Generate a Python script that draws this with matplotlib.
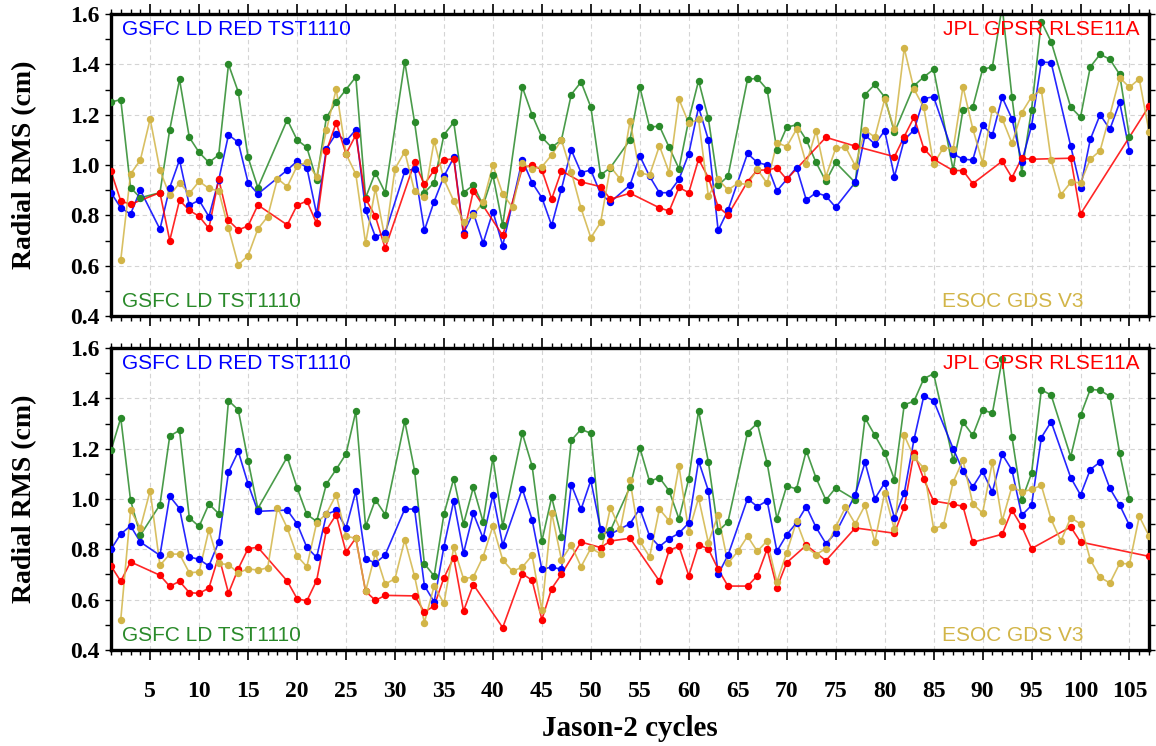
import matplotlib

matplotlib.use("Agg")
import matplotlib.pyplot as plt
from matplotlib.ticker import MultipleLocator

# Jason-2 cycles 1..107; None = no value for that cycle
cycles = list(range(1, 108))

# ---- upper panel ----
green_top = [
    1.25, 1.26, 0.91, 0.87, None, 0.89, 1.14, 1.34, 1.11, 1.05,
    1.01, 1.04, 1.40, 1.29, 1.03, 0.91, None, None, 1.18, 1.10,
    1.07, 0.94, 1.19, 1.25, 1.30, 1.35, 0.87, 0.97, 0.89, None,
    1.41, 1.17, 0.89, 0.93, 1.12, 1.17, 0.89, 0.92, 0.84, 0.96,
    0.76, None, 1.31, 1.20, 1.11, 1.07, 1.10, 1.28, 1.33, 1.23,
    0.96, 0.99, None, 1.10, 1.31, 1.15, 1.155, 1.07, 0.985, 1.18,
    1.335, 1.185, 0.92, 0.955, None, 1.34, 1.345, 1.30, 1.06, 1.15,
    1.16, 1.10, 1.01, 0.935, 1.01, None, 0.93, 1.28, 1.32, 1.27,
    1.13, None, 1.315, 1.35, 1.38, None, 0.98, 1.22, 1.23, 1.38,
    1.39, 1.63, 1.27, 0.97, 1.22, 1.57, 1.49, None, 1.23, 1.19,
    1.39, 1.44, 1.42, 1.36, 1.11, None, None,
]
blue_top = [
    0.89, 0.83, 0.805, 0.90, None, 0.745, 0.91, 1.02, 0.84, 0.86,
    0.795, 0.94, 1.12, 1.09, 0.93, 0.885, None, None, 0.98, 1.015,
    0.99, 0.805, 1.065, 1.125, 1.095, 1.14, 0.82, 0.715, 0.73, None,
    0.975, 0.985, 0.74, 0.855, 0.955, 1.03, 0.73, 0.81, 0.69, 0.815,
    0.68, None, 1.02, 0.93, 0.87, 0.76, 0.905, 1.06, 0.97, 0.98,
    0.885, 0.853, None, 0.92, 1.036, 0.955, 0.89, 0.89, 0.943, 1.045,
    1.23, 1.10, 0.74, 0.82, None, 1.046, 1.01, 1.00, 0.897, 0.943,
    0.99, 0.861, 0.89, 0.877, 0.832, None, 0.931, 1.119, 1.083, 1.136,
    0.954, 1.10, 1.139, 1.264, 1.271, None, 1.044, 1.023, 1.02, 1.158,
    1.119, 1.269, 1.184, 1.013, 1.155, 1.409, 1.407, None, 1.075, 0.91,
    1.102, 1.20, 1.142, 1.249, 1.056, None, None,
]
red_top = [
    0.975, 0.857, 0.844, None, None, 0.89, 0.70, 0.86, 0.82, 0.796,
    0.748, 0.944, 0.78, 0.742, 0.758, 0.841, None, None, 0.762, 0.84,
    0.857, 0.768, 1.056, 1.168, 1.044, 1.119, 0.866, 0.796, 0.669, None,
    None, 1.011, 0.923, 0.98, 1.02, 1.025, 0.722, 0.897, None, None,
    0.72, None, 0.987, 1.001, 0.98, 0.865, 0.977, None, 0.933, None,
    0.914, 0.864, None, 0.888, None, None, 0.83, 0.817, 0.911, 0.89,
    1.023, 0.95, 0.834, 0.801, None, 0.934, 0.98, 0.98, 0.989, 0.943,
    None, None, None, 1.11, None, None, 1.075, None, None, None,
    1.033, 1.113, 1.19, 1.065, 1.023, None, 0.978, 0.978, 0.926, None,
    None, 1.015, 0.95, 1.027, 1.023, None, None, None, 1.027, 0.805,
    None, None, None, None, None, None, 1.234,
]
yellow_top = [
    None, 0.623, 0.964, 1.02, 1.183, 0.98, 0.879, 0.928, 0.887, 0.935,
    0.907, 0.897, 0.748, 0.603, 0.64, 0.746, 0.795, 0.946, 0.914, 0.996,
    1.011, 0.954, 1.139, 1.302, 1.044, 0.964, 0.689, 0.907, 0.705, 0.985,
    1.053, 0.895, 0.871, 1.095, 0.943, 0.857, 0.775, 0.801, 0.852, 0.999,
    0.885, 0.832, 1.007, 0.985, 0.993, 1.04, 1.099, 0.973, 0.828, 0.711,
    0.772, 0.993, 0.944, 1.175, 0.969, 0.96, 1.076, 0.97, 1.261, 1.166,
    1.181, 0.877, 0.943, 0.901, 0.927, 0.923, 0.983, 0.927, 1.089, 1.073,
    1.142, 1.004, 1.136, 0.954, 1.066, 1.072, 0.997, 1.138, 1.111, 1.261,
    1.142, 1.464, 1.301, 1.229, 1.003, 1.069, 1.065, 1.311, 1.144, 1.009,
    1.224, 1.184, 1.086, 1.208, 1.271, 1.298, 1.02, 0.882, 0.931, 0.93,
    1.023, 1.057, 1.199, 1.347, 1.309, 1.342, 1.132,
]

# ---- lower panel ----
green_bot = [
    1.193, 1.322, 0.995, 0.856, None, 0.977, 1.25, 1.273, 0.925, 0.891,
    0.98, 0.942, 1.391, 1.354, 1.152, 0.962, None, None, 1.167, 1.045,
    0.939, 0.911, 1.06, 1.118, 1.179, 1.348, 0.891, 0.997, 0.938, None,
    1.309, 1.113, 0.743, 0.694, 0.94, 1.081, 0.901, 1.046, 0.909, 1.164,
    0.893, None, 1.261, 1.132, 0.833, 1.007, 0.848, 1.233, 1.277, 1.261,
    0.854, 0.875, None, 1.048, 1.204, 1.07, 1.085, 1.032, 0.921, 1.081,
    1.351, 1.147, 0.872, 0.909, None, 1.264, 1.301, 1.143, 0.921, 1.052,
    1.04, 1.192, 1.083, 0.996, 1.044, None, 0.997, 1.322, 1.253, 1.184,
    1.077, 1.374, 1.389, 1.478, 1.498, None, 1.154, 1.306, 1.253, 1.354,
    1.341, 1.555, 1.246, 0.995, 1.102, 1.434, 1.413, None, 1.168, 1.332,
    1.436, 1.432, 1.408, 1.181, 0.999, None, None,
]
blue_bot = [
    0.80, 0.861, 0.893, 0.829, None, 0.776, 1.011, 0.962, 0.77, 0.76,
    0.734, 0.829, 1.107, 1.189, 1.06, 0.951, None, None, 0.956, 0.902,
    0.808, 0.768, 0.939, 0.955, 0.885, 1.03, 0.763, 0.745, 0.778, None,
    0.96, 0.96, 0.656, 0.591, 0.811, 0.993, 0.785, 0.943, 0.844, 1.017,
    0.817, None, 1.041, 0.918, 0.72, 0.73, 0.72, 1.057, 0.959, 1.074,
    0.879, 0.86, None, 0.902, 0.962, 0.853, 0.811, 0.842, 0.864, 0.905,
    1.151, 1.033, 0.701, 0.776, None, 1.001, 0.97, 0.993, 0.792, 0.858,
    0.905, 0.97, 0.887, 0.823, 0.865, None, 1.017, 1.146, 1.001, 1.064,
    0.925, 1.023, 1.237, 1.409, 1.391, None, 1.20, 1.111, 1.048, 1.11,
    1.028, 1.178, 1.115, 0.935, 0.975, 1.244, 1.307, None, 1.085, 1.016,
    1.117, 1.147, 1.042, 0.976, 0.895, None, None,
]
red_bot = [
    0.734, 0.673, 0.75, None, None, 0.697, 0.653, 0.673, 0.628, 0.625,
    0.646, 0.774, 0.626, 0.723, 0.803, 0.808, None, None, 0.674, 0.604,
    0.595, 0.676, 0.877, 0.938, 0.789, 0.845, 0.633, 0.597, 0.617, None,
    None, 0.615, 0.551, 0.575, 0.687, 0.767, 0.555, 0.66, None, None,
    0.489, None, 0.703, 0.677, 0.521, 0.644, 0.701, None, 0.829, None,
    0.807, 0.833, None, 0.844, None, None, 0.674, 0.796, 0.812, 0.695,
    0.819, 0.801, 0.721, 0.654, None, 0.654, 0.695, 0.801, 0.648, 0.747,
    None, 0.816, None, 0.755, None, None, 0.885, None, None, None,
    0.864, 0.968, 1.184, 1.078, 0.992, None, 0.979, 0.971, 0.828, None,
    None, 0.86, 0.956, 0.891, 0.803, None, None, None, 0.889, 0.829,
    None, None, None, None, None, None, 0.772,
]
yellow_bot = [
    None, 0.521, 0.955, 0.885, 1.033, 0.736, 0.781, 0.781, 0.707, 0.71,
    0.878, 0.744, 0.739, 0.706, 0.723, 0.717, 0.727, 0.966, 0.885, 0.774,
    0.731, 0.905, 0.942, 1.017, 0.852, 0.844, 0.633, 0.785, 0.662, 0.683,
    0.838, 0.693, 0.509, 0.654, 0.585, 0.808, 0.683, 0.69, 0.771, 0.893,
    0.758, 0.713, 0.729, 0.776, 0.558, 0.946, 0.758, 0.817, 0.731, 0.804,
    0.783, 0.966, 0.879, 1.074, 0.833, 0.77, 0.96, 0.913, 1.13, 0.869,
    1.004, 0.826, 0.938, 0.744, 0.792, 0.852, 0.792, 0.834, 0.67, 0.787,
    0.911, 0.808, 0.779, 0.803, 0.889, 0.967, 0.901, 0.975, 0.829, 1.025,
    0.879, 1.253, 1.166, 1.123, 0.882, 0.895, 1.068, 1.154, 0.981, 0.944,
    1.147, 0.913, 1.049, 1.028, 1.038, 1.054, 0.919, 0.833, 0.926, 0.901,
    0.759, 0.689, 0.666, 0.744, 0.742, 0.931, 0.853,
]

series_names = ["GSFC LD TST1110", "GSFC LD RED TST1110", "JPL GPSR RLSE11A", "ESOC GDS V3"]
GREEN = "#2a8a2a"
BLUE = "#0000ff"
RED = "#ff0000"
GOLD = "#d2b548"
colors = [GREEN, BLUE, RED, GOLD]

SERIF = "Liberation Serif"
SANS = "Liberation Sans"
yticks = [0.4, 0.6, 0.8, 1.0, 1.2, 1.4, 1.6]
xticks = list(range(5, 106, 5))


def draw_series(ax, vals, color):
    xs = [c for c, v in zip(cycles, vals) if v is not None]
    ys = [v for v in vals if v is not None]
    ax.plot(xs, ys, color=color, lw=1.2, alpha=0.85, zorder=2)
    ax.plot(xs, ys, ls="none", marker="o", ms=4.3, color=color, zorder=3)


def style_axis(ax, show_xlabels):
    ax.set_xlim(1, 107)
    ax.set_ylim(0.4, 1.6)
    ax.set_xticks(xticks)
    ax.xaxis.set_minor_locator(MultipleLocator(1))
    ax.set_yticks(yticks)
    ax.yaxis.set_minor_locator(MultipleLocator(0.1))
    ax.grid(True, which="major", ls=(0, (4, 3)), color="#d4d4d4", lw=0.8, zorder=0)
    for sp in ax.spines.values():
        sp.set_linewidth(2.4)
    ax.tick_params(axis="x", which="major", direction="out", length=7, width=1.2,
                   top=True, bottom=True, pad=15, labelbottom=show_xlabels)
    ax.tick_params(axis="x", which="minor", direction="out", length=3.5, width=1.0,
                   top=True, bottom=True)
    ax.tick_params(axis="y", which="both", direction="out", length=4, width=1.0,
                   left=True, right=True, pad=4)
    ax.set_yticklabels(["%.1f" % v for v in yticks])
    if show_xlabels:
        ax.set_xticklabels([str(v) for v in xticks])
    for lab in ax.get_yticklabels() + ax.get_xticklabels():
        lab.set_fontfamily(SERIF)
        lab.set_fontweight("bold")
        lab.set_fontsize(17)
    ax.set_ylabel("Radial RMS (cm)", fontfamily=SERIF, fontweight="bold", fontsize=20)
    ax.yaxis.set_label_coords(-0.071, 0.5)

    kw = dict(transform=ax.transAxes, fontfamily=SANS, fontsize=15, va="center")
    ax.text(0.011, 0.95, series_names[1], color=BLUE, ha="left", **kw)
    ax.text(0.991, 0.95, series_names[2], color=RED, ha="right", **kw)
    ax.text(0.011, 0.047, series_names[0], color=GREEN, ha="left", **kw)
    ax.text(0.937, 0.047, series_names[3], color=GOLD, ha="right", **kw)


fig = plt.figure(figsize=(11.56, 7.46), dpi=100)
ax_top = fig.add_axes([0.096, 0.5764, 0.898, 0.4048])
ax_bot = fig.add_axes([0.096, 0.1287, 0.898, 0.4048])

for ax, data in ((ax_top, (green_top, blue_top, red_top, yellow_top)),
                 (ax_bot, (green_bot, blue_bot, red_bot, yellow_bot))):
    for vals, col in zip(data, colors):
        draw_series(ax, vals, col)

style_axis(ax_top, show_xlabels=False)
style_axis(ax_bot, show_xlabels=True)

fig.text(0.545, 0.024, "Jason-2 cycles", ha="center", va="center",
         fontfamily=SERIF, fontweight="bold", fontsize=21)

fig.savefig("out.png", dpi=100)
plt.close(fig)
